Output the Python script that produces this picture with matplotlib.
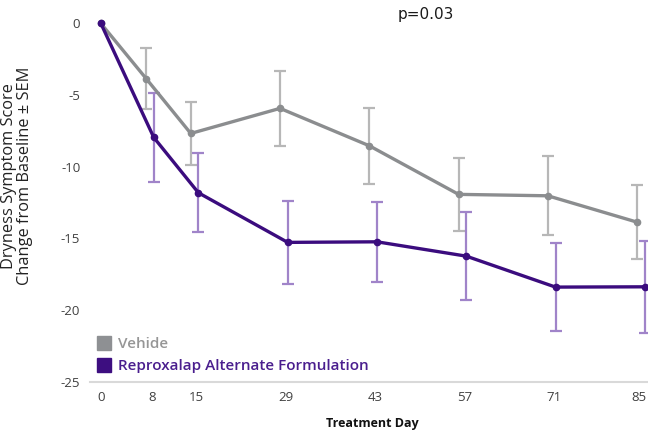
import matplotlib.pyplot as plt
import matplotlib.transforms as mtransforms
import numpy as np
from matplotlib.lines import Line2D

# Datos
days = np.array([0, 8, 15, 29, 43, 57, 71, 85])
vehicle = [0, -3.85, -7.68, -5.93, -8.54, -11.93, -12.03, -13.87]
vehicle_sem = [0, 2.14, 2.22, 2.64, 2.66, 2.54, 2.77, 2.56]
reproxalap = [0, -7.96, -11.82, -15.28, -15.24, -16.24, -18.40, -18.38]
reproxalap_sem = [0, 3.08, 2.77, 2.90, 2.80, 3.08, 3.08, 3.23]

gray_line = '#8b8d8f'
gray_err = '#b7b7b7'
purple_line = '#3b0c7e'
purple_err = '#a084c9'

plt.rcParams['font.family'] = ['Open Sans', 'DejaVu Sans']
plt.rcParams['axes.unicode_minus'] = False

fig = plt.figure(figsize=(6.48, 4.34), dpi=100)
ax = fig.add_axes([90 / 648, 1 - 381.7 / 434, 1 - 90 / 648, 381.7 / 434])

# pequeño desplazamiento horizontal de las series (como en el original)
x_veh = np.where(days == 0, 0, days - 0.9)
x_rep = np.where(days == 0, 0, days + 0.3)

ax.errorbar(x_veh[1:], vehicle[1:], yerr=vehicle_sem[1:], fmt='none',
            ecolor=gray_err, elinewidth=1.6, capsize=4, capthick=1.6, zorder=1)
ax.errorbar(x_rep[1:], reproxalap[1:], yerr=reproxalap_sem[1:], fmt='none',
            ecolor=purple_err, elinewidth=1.6, capsize=4, capthick=1.6, zorder=1)
ax.plot(x_veh, vehicle, color=gray_line, lw=2.4, marker='o', ms=4.5, zorder=3)
ax.plot(x_rep, reproxalap, color=purple_line, lw=2.4, marker='o', ms=4.5, zorder=4)

ax.set_xlim(-1.7, 85.8)
ax.set_ylim(-25, 1.63)
ax.set_xticks(days)
ax.set_yticks([0, -5, -10, -15, -20, -25])
ax.tick_params(length=0, labelsize=9.5, labelcolor='#404040')
ax.tick_params(axis='x', pad=7)
ax.tick_params(axis='y', pad=7)
for s in ['top', 'right', 'left']:
    ax.spines[s].set_visible(False)
ax.spines['bottom'].set_color('#d9d9d9')
ax.spines['bottom'].set_linewidth(1.5)

# la última etiqueta toca el borde: se corre un poco a la izquierda
last = ax.get_xticklabels()[-1]
last.set_transform(last.get_transform() +
                   mtransforms.ScaledTranslation(-4 / 100, 0, fig.dpi_scale_trans))

handles = [Line2D([], [], ls='none', marker='s', ms=10, color='#8e9093'),
           Line2D([], [], ls='none', marker='s', ms=10, color='#3d0e80')]
leg = fig.legend(handles, ['Vehide', 'Reproxalap Alternate Formulation'],
                 loc='lower left', bbox_to_anchor=(96 / 648, 1 - 373 / 434),
                 frameon=False, fontsize=11, handlelength=1.0, handletextpad=0.45,
                 labelspacing=0.5, borderpad=0, borderaxespad=0,
                 labelcolor=['#969696', '#4a1e8e'])
for t in leg.get_texts():
    t.set_fontweight('semibold')

fig.text(17.5 / 648, 1 - 176 / 434, 'Dryness Symptom Score\nChange from Baseline ± SEM',
         rotation=90, ha='center', va='center', fontsize=11.8, color='#222222',
         linespacing=1.0)
fig.text(372 / 648, 1 - 424 / 434, 'Treatment Day', ha='center', va='center',
         fontsize=9, fontweight='bold', color='#111111')
fig.text(398 / 648, 1 - 15 / 434, 'p=0.03', ha='left', va='center',
         fontsize=11, family='DejaVu Sans', color='#1a1a1a')

fig.savefig('out.png', dpi=100)
